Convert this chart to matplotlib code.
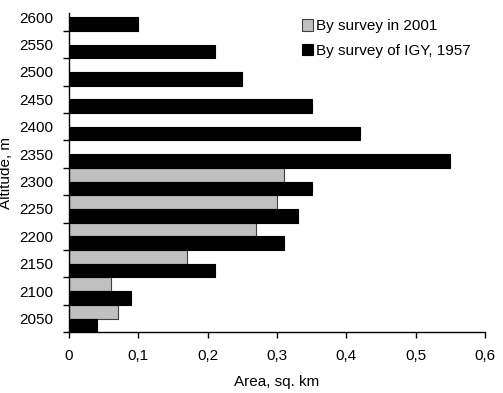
import matplotlib
matplotlib.use('Agg')
import matplotlib.pyplot as plt
from matplotlib.ticker import FuncFormatter, FixedLocator
import numpy as np

plt.rcParams['font.family'] = ['Liberation Sans', 'DejaVu Sans']

# Altitude bands (m) and glacier area (sq. km)
altitudes = [2050, 2100, 2150, 2200, 2250, 2300, 2350, 2400, 2450, 2500, 2550, 2600]
area_2001 = [0.07, 0.06, 0.17, 0.27, 0.30, 0.31]
area_1957 = [0.04, 0.09, 0.21, 0.31, 0.33, 0.35, 0.55, 0.42, 0.35, 0.25, 0.21, 0.10]

fig = plt.figure(figsize=(5.03, 3.93), dpi=100)
ax = fig.add_axes([69 / 503, 1 - 332.3 / 393, 416 / 503, 319.3 / 393])

pos = np.arange(len(altitudes))
h = 0.5

# gray bars sit in the upper half of each band, black in the lower half
ax.barh(pos[:len(area_2001)] + h / 2, area_2001, height=h, color='#c0c0c0',
        edgecolor='#404040', linewidth=0.8, label='By survey in 2001')
ax.barh(pos - h / 2, area_1957, height=h, color='black',
        edgecolor='black', linewidth=0.8, label='By survey of IGY, 1957')

ax.set_xlim(0, 0.6)
ax.set_ylim(-0.5, 11.15)

fs = 11

ax.set_xticks(np.arange(0, 0.61, 0.1))
ax.xaxis.set_major_formatter(FuncFormatter(lambda v, p: f"{round(v, 2):g}".replace('.', ',')))
ax.tick_params(axis='x', direction='out', length=4, width=1, labelsize=fs, pad=8)

ax.set_yticks(pos)
ax.set_yticklabels([str(a) for a in altitudes])
ax.yaxis.set_minor_locator(FixedLocator(pos - 0.5))
ax.tick_params(axis='y', which='major', length=0, labelsize=fs, pad=11)
ax.tick_params(axis='y', which='minor', direction='out', length=4, width=1)

for s in ['top', 'right']:
    ax.spines[s].set_visible(False)
for s in ['left', 'bottom']:
    ax.spines[s].set_linewidth(1)

ax.set_xlabel('Area, sq. km', fontsize=fs, labelpad=9)
ax.set_ylabel('Altitude, m', fontsize=fs)
ax.yaxis.set_label_coords(-0.135, 0.5)

ax.legend(loc='upper left', bbox_to_anchor=(0.56, 0.98), frameon=False,
          fontsize=fs, handlelength=0.75, handleheight=0.75, handletextpad=0.2,
          labelspacing=0.7, borderpad=0, borderaxespad=0)

fig.savefig('out.png', dpi=100)
